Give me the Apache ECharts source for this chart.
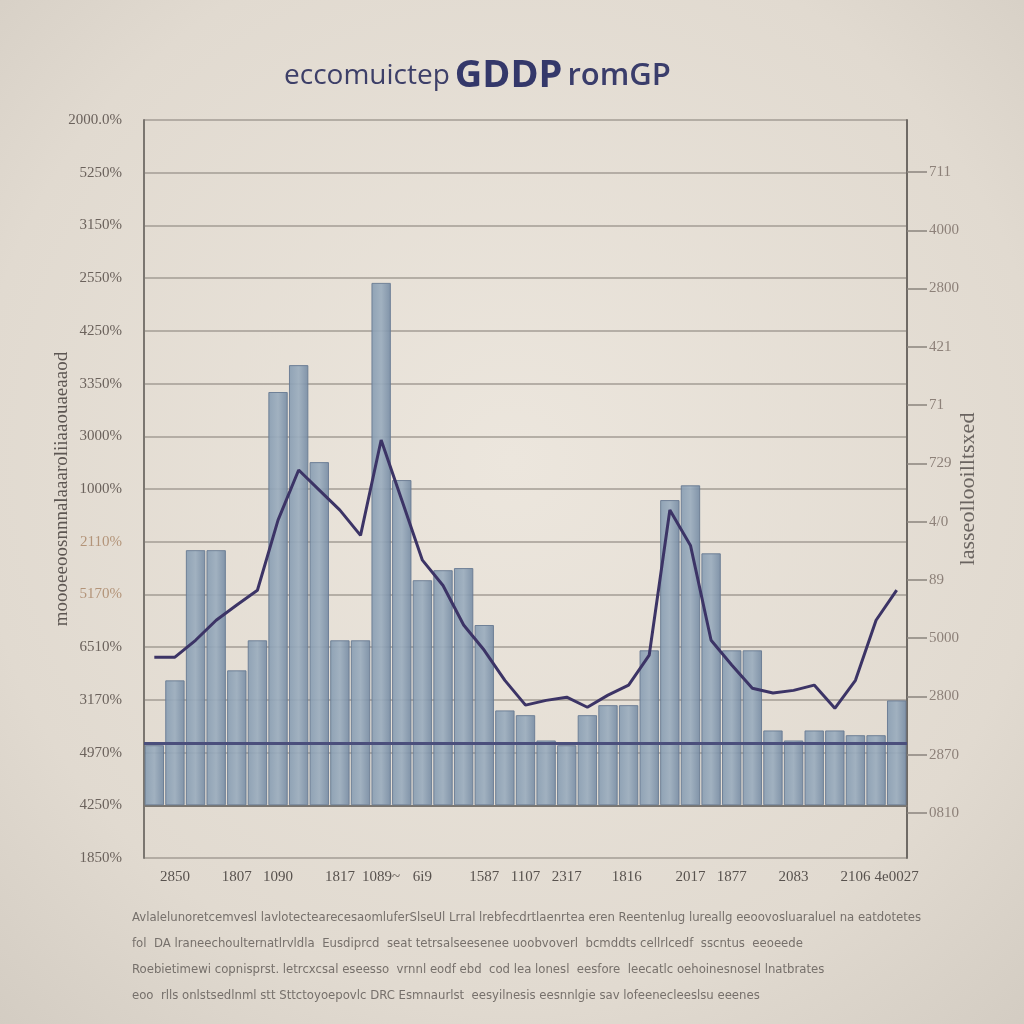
<!DOCTYPE html>
<html><head><meta charset="utf-8">
<script src="https://cdn.jsdelivr.net/npm/echarts@6/dist/echarts.min.js"></script>
<style>html,body{margin:0;padding:0;}#c{width:1024px;height:1024px;}</style>
</head><body><div id="c"></div>
<script>
// ---- data ----
const categories = ["2849","2850","2851","1806","1807","1808","1090","1091","1816","1817","1818","1089~","1088","6i9","620","1586","1587","1106","1107","1108","2317","2318","1815","1816 ","1817 ","2016","2017","2018","1877","1878","1879","2083","2084","2105","2106","2107","4e0027"];
const xShownIndex = [1,4,6,9,11,13,16,18,20,23,26,28,31,34,36];
const barValues = [1.14,2.37,4.84,4.84,2.56,3.13,7.84,8.35,6.51,3.13,3.13,9.91,6.17,4.27,4.46,4.50,3.42,1.80,1.71,1.23,1.14,1.71,1.90,1.90,2.94,5.79,6.07,4.78,2.94,2.94,1.42,1.23,1.42,1.42,1.33,1.33,1.99];
const lineValues = [2.81,2.81,3.13,3.51,3.80,4.08,5.41,6.36,5.98,5.60,5.12,6.93,5.79,4.65,4.17,3.42,2.94,2.37,1.90,1.99,2.05,1.86,2.09,2.28,2.85,5.60,4.93,3.13,2.66,2.22,2.13,2.18,2.28,1.84,2.37,3.51,4.08];
const baselineValue = 1.18;
const leftTickLabels = ["1850%","4250%","4970%","3170%","6510%","5170%","2110%","1000%","3000%","3350%","4250%","2550%","3150%","5250%","2000.0%"]; // from -1 upward
const rightTickLabels = ["0810","2870","2800","5000","89","4/0","729","71","421","2800","4000","711"];
const titleText = ["eccomuictep","GDDP","romGP"];
const leftAxisName = "moooeeoosnnnalaaaroliiaaouaeaaod";
const rightAxisName = "lasseollooilltsxed";
const footnote = [
 "Avlalelunoretcemvesl lavlotectearecesaomluferSlseUl Lrral lrebfecdrtlaenrtea eren Reentenlug lureallg eeoovosluaraluel na eatdotetes",
 "fol  DA lraneechoulternatlrvldla  Eusdiprcd  seat tetrsalseesenee uoobvoverl  bcmddts cellrlcedf  sscntus  eeoeede",
 "Roebietimewi copnisprst. letrcxcsal eseesso  vrnnl eodf ebd  cod lea lonesl  eesfore  leecatlc oehoinesnosel lnatbrates",
 "eoo  rlls onlstsedlnml stt Sttctoyoepovlc DRC Esmnaurlst  eesyilnesis eesnnlgie sav lofeenecleeslsu eeenes"
];

const leftColors = {5:'#b39479',6:'#b8a080'};
const chart = echarts.init(document.getElementById('c'));
chart.setOption({
  backgroundColor: new echarts.graphic.RadialGradient(0.5,0.45,0.75,[
    {offset:0,color:'#ece6dd'},{offset:0.7,color:'#e1dad0'},{offset:1,color:'#d3ccc2'}]),
  animation:false,
  title:[
    {left:279, top:52, text:'{a|'+titleText[0]+'} {b|'+titleText[1]+'} {c|'+titleText[2]+'}',
     textStyle:{fontWeight:'normal', rich:{
       a:{fontFamily:'Open Sans',fontSize:28,fontWeight:'normal',color:'#3d3f68'},
       b:{fontFamily:'Open Sans',fontSize:38,fontWeight:'bold',color:'#34386a'},
       c:{fontFamily:'Open Sans',fontSize:31,fontWeight:600,color:'#3a3d6b'}}}},
    {left:127, top:900, text:footnote.join('\n'),
     textStyle:{fontFamily:'Liberation Sans Narrow, DejaVu Sans Condensed, sans-serif',fontSize:13,fontWeight:'normal',color:'#76706b',lineHeight:26}}
  ],
  grid:[
    {left:144, right:117, top:120, bottom:166},
    {left:144, right:117, top:172, bottom:211}
  ],
  xAxis:[
    {type:'category', gridIndex:0, data:categories,
     axisLine:{show:true,lineStyle:{color:'#7b7670',width:2}},
     axisTick:{show:false},
     axisLabel:{interval:(i)=>xShownIndex.indexOf(i)>=0, fontFamily:'Liberation Serif, DejaVu Serif, serif', fontSize:15, color:'#58524e', margin:12}},
    {type:'category', gridIndex:1, data:categories, show:false}
  ],
  yAxis:[
    {type:'value', gridIndex:0, min:-1, max:13, interval:1,
     axisLine:{show:true,lineStyle:{color:'#7b7670',width:2}},
     axisTick:{show:false},
     splitLine:{lineStyle:{color:'#a39c94',width:1.5}},
     axisLabel:{margin:22, fontFamily:'Liberation Serif, DejaVu Serif, serif', fontSize:15,
       formatter:(v)=>{const i=Math.round(v)+1; return leftColors[i]?'{o|'+leftTickLabels[i]+'}':'{n|'+leftTickLabels[i]+'}';},
       rich:{n:{color:'#6b625c',fontSize:15,fontFamily:'Liberation Serif, serif'},o:{color:'#b39479',fontSize:15,fontFamily:'Liberation Serif, serif'}}},
     name:leftAxisName, nameLocation:'middle', nameGap:72, nameRotate:90, nameMoveOverlap:false,
     nameTextStyle:{fontFamily:'Liberation Serif, serif',fontSize:19,color:'#5d5652'}},
    {type:'value', gridIndex:0, position:'right', min:-1, max:13, interval:1,
     axisLine:{show:true,lineStyle:{color:'#6f6a65',width:2}},
     axisTick:{show:false}, axisLabel:{show:false}, splitLine:{show:false},
     name:rightAxisName, nameLocation:'middle', nameGap:50, nameRotate:90,
     nameTextStyle:{fontFamily:'Liberation Serif, serif',fontSize:22,color:'#6a6460'}},
    {type:'value', gridIndex:1, position:'right', min:0, max:11, interval:1,
     axisLine:{show:false},
     axisTick:{show:true,inside:false,length:20,lineStyle:{color:'#8a847e',width:1.5}},
     splitLine:{show:false},
     axisLabel:{margin:22, fontFamily:'Liberation Serif, DejaVu Serif, serif', fontSize:15, color:'#8d8179',
       formatter:(v)=>rightTickLabels[Math.round(v)]}}
  ],
  series:[
    {type:'bar', xAxisIndex:0, yAxisIndex:0, data:barValues, barCategoryGap:'6%',
     itemStyle:{color:new echarts.graphic.LinearGradient(0,0,1,0,[
       {offset:0,color:'#889db2'},{offset:0.5,color:'#9badbe'},{offset:1,color:'#778ca4'}]),
       borderColor:'#687b92',borderWidth:1,opacity:0.92},
     markLine:{symbol:'none', silent:true, label:{show:false},
       lineStyle:{color:'#4b4f7c',width:3,type:'solid'},
       data:[{yAxis:baselineValue}]}},
    {type:'line', xAxisIndex:0, yAxisIndex:0, data:lineValues, showSymbol:false,
     lineStyle:{color:'#3c3466',width:3}, itemStyle:{color:'#3c3466'}}
  ]
});
</script></body></html>
